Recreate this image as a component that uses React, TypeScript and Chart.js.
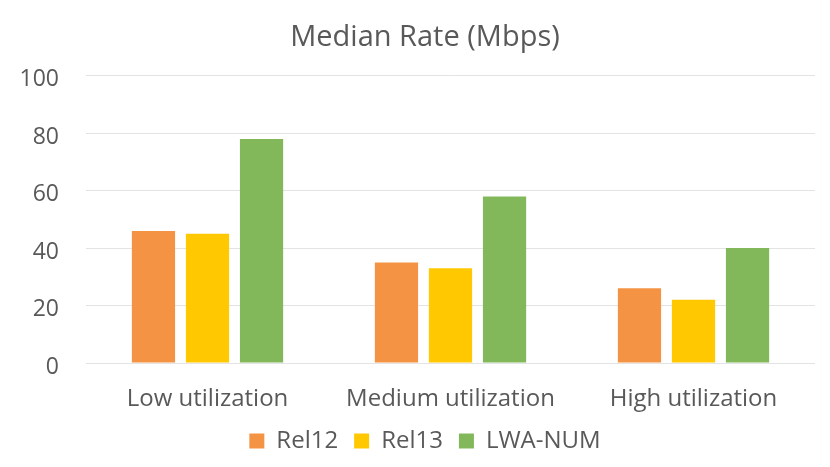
import React, { useEffect, useRef } from "react";
import { Chart, registerables } from "chart.js";

Chart.register(...registerables);

const categories = ["Low utilization", "Medium utilization", "High utilization"];
const rel12 = [46, 35, 26];
const rel13 = [45, 33, 22];
const lwaNum = [78, 58, 40];
const seriesNames = ["Rel12", "Rel13", "LWA-NUM"];
const seriesColors = ["#F39343", "#FFC800", "#82B85A"];
const titleText = "Median Rate (Mbps)";

const FONT = "'Open Sans', 'Noto Sans', sans-serif";

export default function App() {
  const ref = useRef<HTMLCanvasElement | null>(null);

  useEffect(() => {
    document.body.style.margin = "0";
    if (!ref.current) return;
    const values = [rel12, rel13, lwaNum];
    const chart = new Chart(ref.current, {
      type: "bar",
      data: {
        labels: categories,
        datasets: values.map((v, i) => ({
          label: seriesNames[i],
          data: v,
          backgroundColor: seriesColors[i],
          borderWidth: 0,
          categoryPercentage: 0.667,
          barPercentage: 0.8,
          yAxisID: "y",
        })),
      },
      options: {
        responsive: false,
        animation: false,
        devicePixelRatio: 1,
        layout: { padding: { left: 8, right: -12, top: 0, bottom: 4 } },
        plugins: {
          title: {
            display: true,
            text: titleText,
            color: "#595959",
            font: { family: FONT, size: 29, weight: "normal" },
            padding: { top: 20, bottom: 21 },
          },
          legend: {
            position: "bottom",
            labels: {
              color: "#595959",
              font: { family: FONT, size: 24 },
              boxWidth: 15,
              boxHeight: 15,
              padding: 16,
            },
          },
          tooltip: { enabled: false },
        },
        scales: {
          x: {
            grid: { display: false, drawTicks: false },
            border: { display: false },
            ticks: {
              color: "#595959",
              font: { family: FONT, size: 24 },
              padding: 22,
            },
            afterFit: (s: any) => {
              s.height = 50;
            },
          },
          y: {
            min: 0,
            max: 100,
            ticks: {
              stepSize: 20,
              color: "#595959",
              font: { family: FONT, size: 23 },
              padding: 27,
              labelOffset: 4,
            },
            grid: { color: "#E3E3E3", lineWidth: 1, drawTicks: false },
            border: { display: false },
            afterFit: (s: any) => {
              s.width = 78;
            },
          },
          spacer: {
            type: "linear",
            position: "right",
            display: true,
            grid: { display: false, drawTicks: false },
            border: { display: false },
            ticks: { display: false },
            afterFit: (s: any) => {
              s.width = 27;
            },
          },
        },
      },
    });
    return () => chart.destroy();
  }, []);

  return (
    <div style={{ width: 830, height: 467 }}>
      <canvas ref={ref} width={830} height={467} style={{ display: "block" }} />
    </div>
  );
}
